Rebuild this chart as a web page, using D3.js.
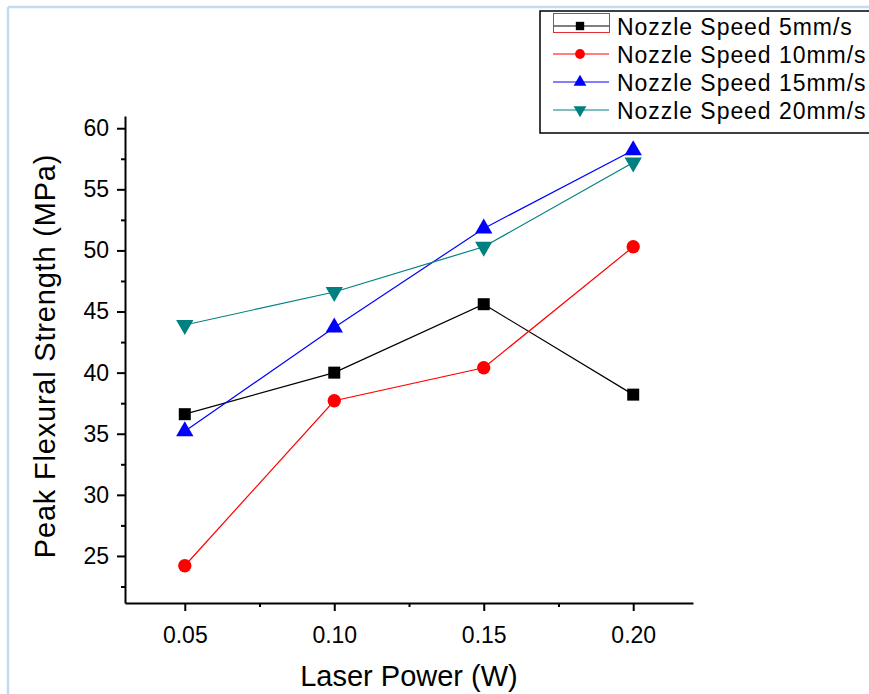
<!DOCTYPE html>
<html lang="en">
<head>
<meta charset="utf-8"/>
<title>Peak Flexural Strength vs Laser Power</title>
<script src="https://d3js.org/d3.v7.min.js"></script>
<style>
	body { margin: 0; background: #fff; }
	svg { display: block; font-family: "Liberation Sans", Arial, sans-serif; }
	.axis path, .axis line { stroke: #000; stroke-width: 2px; }
	.axis text { font-size: 23px; fill: #000; }
	.series path.line { fill: none; stroke-width: 1.2px; }
</style>
</head>
<body>
<svg id="chart" width="869" height="694"></svg>
<script>
// data
var laserPower = [0.05, 0.10, 0.15, 0.20];
var speed5  = [36.6, 40.0, 45.6, 38.2];
var speed10 = [24.2, 37.7, 40.4, 50.3];
var speed15 = [35.2, 43.7, 51.8, 58.2];
var speed20 = [43.9, 46.6, 50.3, 57.2];
var seriesNames = ["Nozzle Speed 5mm/s", "Nozzle Speed 10mm/s", "Nozzle Speed 15mm/s", "Nozzle Speed 20mm/s"];
var xTicks = [0.05, 0.10, 0.15, 0.20];
var xMinor = [0.075, 0.125, 0.175];
var yTicks = [25, 30, 35, 40, 45, 50, 55, 60];
var yMinor = [22.5, 27.5, 32.5, 37.5, 42.5, 47.5, 52.5, 57.5];

var colors = ["#000000", "#ff0000", "#0000ff", "#008080"];
var shapes = [d3.symbolSquare, d3.symbolCircle, d3.symbolTriangle, d3.symbolTriangle];
var sizes = [144, 140, 130, 130];
var legSizes = [70, 75, 70, 70];
var rotations = [0, 0, 0, 180];

var series = [speed5, speed10, speed15, speed20].map(function(vals, i) {
	return { name: seriesNames[i], values: vals.map(function(v, j) { return { x: laserPower[j], y: v }; }) };
});

var svg = d3.select("#chart");

// light blue frame of the screenshot
svg.append("line").attr("x1", 8).attr("x2", 869).attr("y1", 7).attr("y2", 7)
	.attr("stroke", "#c6d9f1").attr("stroke-width", 2.5);
svg.append("line").attr("x1", 8).attr("x2", 8).attr("y1", 7).attr("y2", 694)
	.attr("stroke", "#c6d9f1").attr("stroke-width", 2.5);

var x = d3.scaleLinear().domain([0.03, 0.22]).range([125, 693]);
var y = d3.scaleLinear().domain([21.15, 61.0]).range([603, 116]);

// x axis
svg.append("g").attr("class", "axis")
	.attr("transform", "translate(0,603)")
	.call(d3.axisBottom(x).tickValues(xTicks).tickFormat(d3.format(".2f")).tickSize(8).tickSizeOuter(0).tickPadding(16));
svg.append("g").attr("class", "axis")
	.attr("transform", "translate(0,603)")
	.call(d3.axisBottom(x).tickValues(xMinor).tickFormat("").tickSize(4).tickSizeOuter(0))
	.select(".domain").remove();

// y axis
svg.append("g").attr("class", "axis")
	.attr("transform", "translate(125,0)")
	.call(d3.axisLeft(y).tickValues(yTicks).tickSize(8).tickSizeOuter(0).tickPadding(8));
svg.append("g").attr("class", "axis")
	.attr("transform", "translate(125,0)")
	.call(d3.axisLeft(y).tickValues(yMinor).tickFormat("").tickSize(4).tickSizeOuter(0))
	.select(".domain").remove();

// axis titles
svg.append("text")
	.attr("x", 409).attr("y", 686)
	.attr("text-anchor", "middle")
	.attr("font-size", 29)
	.text("Laser Power (W)");

svg.append("text")
	.attr("transform", "translate(55,356) rotate(-90)")
	.attr("text-anchor", "middle")
	.attr("font-size", 29)
	.attr("letter-spacing", 0.8)
	.text("Peak Flexural Strength (MPa)");

// lines + markers
var line = d3.line().x(function(d) { return x(d.x); }).y(function(d) { return y(d.y); });

var g = svg.selectAll("g.series")
	.data(series)
	.enter().append("g")
	.attr("class", "series");

g.append("path")
	.attr("class", "line")
	.attr("d", function(d) { return line(d.values); })
	.attr("stroke", function(d, i) { return colors[i]; });

g.each(function(s, i) {
	d3.select(this).selectAll("path.mark")
		.data(s.values)
		.enter().append("path")
		.attr("class", "mark")
		.attr("d", d3.symbol().type(shapes[i]).size(sizes[i]))
		.attr("transform", function(d) { return "translate(" + x(d.x) + "," + y(d.y) + ") rotate(" + rotations[i] + ")"; })
		.attr("fill", colors[i]);
});

// legend
var legend = svg.append("g");
legend.append("rect")
	.attr("x", 540).attr("y", 11)
	.attr("width", 340).attr("height", 122)
	.attr("fill", "#fff").attr("stroke", "#000").attr("stroke-width", 1.5);

var item = legend.selectAll("g.item")
	.data(seriesNames)
	.enter().append("g")
	.attr("class", "item")
	.attr("transform", function(d, i) { return "translate(0," + (26 + i * 28) + ")"; });

item.append("line")
	.attr("x1", 553).attr("x2", 609)
	.attr("stroke", function(d, i) { return colors[i]; })
	.attr("stroke-width", 1.2);

item.append("path")
	.attr("d", function(d, i) { return d3.symbol().type(shapes[i]).size(legSizes[i])(); })
	.attr("transform", function(d, i) { return "translate(580,0) rotate(" + rotations[i] + ")"; })
	.attr("fill", function(d, i) { return colors[i]; });

item.append("text")
	.attr("x", 617).attr("y", 8.5)
	.attr("font-size", 23)
	.attr("letter-spacing", 0.95)
	.text(function(d) { return d; });

// selection highlight around first legend symbol
legend.append("rect")
	.attr("x", 553.5).attr("y", 13.5)
	.attr("width", 56).attr("height", 19)
	.attr("fill", "none").attr("stroke", "#e03030").attr("stroke-width", 1);
</script>
</body>
</html>
